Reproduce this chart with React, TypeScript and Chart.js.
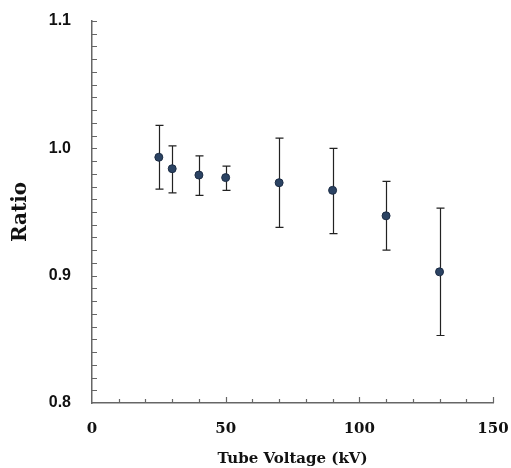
import React, { useEffect, useRef } from "react";
import { Chart, registerables } from "chart.js";

Chart.register(...registerables);

const voltages = [25, 30, 40, 50, 70, 90, 110, 130];
const ratios = [0.993, 0.984, 0.979, 0.977, 0.973, 0.967, 0.947, 0.903];
const errUpper = [1.018, 1.002, 0.994, 0.986, 1.008, 1.0, 0.974, 0.953];
const errLower = [0.968, 0.965, 0.963, 0.967, 0.938, 0.933, 0.92, 0.853];
const yTickLabels = ["0.8", "0.9", "1.0", "1.1"];
const xTickLabels = ["0", "50", "100", "150"];

const errorBarPlugin = {
  id: "errorBars",
  beforeDatasetsDraw(chart: any) {
    const { ctx, scales } = chart;
    const xs = scales.x;
    const ys = scales.y;
    ctx.save();
    ctx.strokeStyle = "#222";
    ctx.lineWidth = 1.2;
    voltages.forEach((v, i) => {
      const px = Math.round(xs.getPixelForValue(v)) + 0.5;
      const top = ys.getPixelForValue(errUpper[i]);
      const bot = ys.getPixelForValue(errLower[i]);
      ctx.beginPath();
      ctx.moveTo(px, top);
      ctx.lineTo(px, bot);
      ctx.moveTo(px - 4, top);
      ctx.lineTo(px + 4, top);
      ctx.moveTo(px - 4, bot);
      ctx.lineTo(px + 4, bot);
      ctx.stroke();
    });
    ctx.restore();
  },
};

const innerTicksPlugin = {
  id: "innerTicks",
  afterDraw(chart: any) {
    const { ctx, scales, chartArea } = chart;
    const xs = scales.x;
    const ys = scales.y;
    ctx.save();
    ctx.strokeStyle = "#666";
    ctx.lineWidth = 1.2;
    ctx.beginPath();
    for (let i = 1; i <= 30; i++) {
      const v = 0.8 + i * 0.01;
      const py = Math.round(ys.getPixelForValue(v)) + 0.5;
      ctx.moveTo(chartArea.left, py);
      ctx.lineTo(chartArea.left + 5, py);
    }
    for (let v = 10; v <= 150; v += 10) {
      const px = Math.round(xs.getPixelForValue(v)) + 0.5;
      const len = v % 50 === 0 ? 6 : 4;
      ctx.moveTo(px, chartArea.bottom);
      ctx.lineTo(px, chartArea.bottom - len);
    }
    ctx.stroke();
    ctx.restore();
  },
};

export default function App() {
  const ref = useRef<HTMLCanvasElement | null>(null);
  useEffect(() => {
    if (!ref.current) return;
    const chart = new Chart(ref.current, {
      type: "scatter",
      data: {
        datasets: [
          {
            data: voltages.map((v, i) => ({ x: v, y: ratios[i] })),
            backgroundColor: "#2b4363",
            borderColor: "#1c2c44",
            borderWidth: 1,
            pointRadius: 4,
          },
        ],
      },
      plugins: [errorBarPlugin, innerTicksPlugin],
      options: {
        animation: false,
        responsive: false,
        maintainAspectRatio: false,
        layout: { padding: { left: 0, top: 21, right: 18, bottom: 0 } },
        plugins: { legend: { display: false }, tooltip: { enabled: false } },
        scales: {
          x: {
            type: "linear",
            min: 0,
            max: 150,
            afterFit: (s: any) => {
              s.height = 65;
              s.paddingLeft = 0;
              s.paddingRight = 0;
              s.paddingTop = 0;
              s.paddingBottom = 0;
            },
            afterBuildTicks: (s: any) => {
              s.ticks = xTickLabels.map((t) => ({ value: Number(t) }));
            },
            grid: { display: false, drawTicks: false },
            border: { display: true, color: "#666", width: 1.5 },
            ticks: {
              padding: 17,
              color: "#111",
              font: { family: "'DejaVu Serif'", size: 15, weight: "bold" },
              callback: (v: any) => String(v),
            },
            title: {
              display: true,
              text: "Tube Voltage (kV)",
              color: "#111",
              font: { family: "'DejaVu Serif'", size: 15, weight: "bold" },
              padding: { top: 0, bottom: 0 },
            },
          },
          y: {
            type: "linear",
            min: 0.8,
            max: 1.1,
            afterFit: (s: any) => {
              s.width = 92;
              s.paddingLeft = 0;
              s.paddingRight = 0;
              s.paddingTop = 0;
              s.paddingBottom = 0;
            },
            afterBuildTicks: (s: any) => {
              s.ticks = yTickLabels.map((t) => ({ value: Number(t) }));
            },
            grid: { display: false, drawTicks: false },
            border: { display: true, color: "#666", width: 1.5 },
            ticks: {
              padding: 21,
              color: "#111",
              font: { family: "'Liberation Sans'", size: 16, weight: "bold" },
              callback: (v: any) => Number(v).toFixed(1),
            },
            title: {
              display: true,
              text: "Ratio",
              color: "#111",
              font: { family: "'DejaVu Serif'", size: 20, weight: "bold" },
              padding: { top: 9, bottom: 0 },
            },
          },
        },
      },
    });
    return () => chart.destroy();
  }, []);
  return (
    <div style={{ position: "fixed", left: 0, top: 0, width: 511, height: 468, background: "#fff" }}>
      <canvas ref={ref} width={511} height={468} style={{ width: 511, height: 468 }} />
    </div>
  );
}
